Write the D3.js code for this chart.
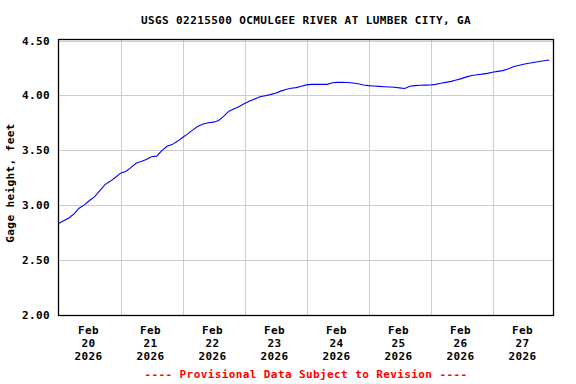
<!DOCTYPE html>
<html>
<head>
<meta charset="utf-8">
<script src="https://cdn.jsdelivr.net/npm/d3@7"></script>
<style>
  html, body { margin: 0; padding: 0; background: #fff; }
  svg { display: block; }
  text { font-family: "DejaVu Sans Mono", "Liberation Mono", monospace; font-weight: bold; }
</style>
</head>
<body>
<svg id="chart" width="576" height="384"></svg>
<script>
// ---- Data ----
const title = "USGS 02215500 OCMULGEE RIVER AT LUMBER CITY, GA";
const yLabel = "Gage height, feet";
const footer = "---- Provisional Data Subject to Revision ----";
const startTime = "2026-02-20T00:00:00";
const stepHours = 2;
const gageHeight = [
  2.830, 2.855, 2.880, 2.918, 2.970, 3.000, 3.040, 3.075, 3.130, 3.185,
  3.215, 3.250, 3.290, 3.305, 3.340, 3.380, 3.395, 3.415, 3.440, 3.445,
  3.495, 3.535, 3.550, 3.580, 3.615, 3.648, 3.685, 3.718, 3.738, 3.750,
  3.755, 3.770, 3.810, 3.855, 3.878, 3.898, 3.925, 3.947, 3.967, 3.986,
  3.996, 4.006, 4.019, 4.038, 4.053, 4.065, 4.070, 4.082, 4.095, 4.100,
  4.100, 4.100, 4.100, 4.115, 4.118, 4.119, 4.117, 4.112, 4.105, 4.094,
  4.088, 4.085, 4.081, 4.078, 4.076, 4.073, 4.068, 4.062, 4.083, 4.088,
  4.092, 4.093, 4.094, 4.100, 4.110, 4.118, 4.127, 4.140, 4.152, 4.168,
  4.181, 4.188, 4.193, 4.200, 4.210, 4.218, 4.225, 4.240, 4.260, 4.272,
  4.284, 4.292, 4.300, 4.308, 4.315, 4.322
];
const yTicks = [2.0, 2.5, 3.0, 3.5, 4.0, 4.5];
const xTickDays = ["2026-02-20", "2026-02-21", "2026-02-22", "2026-02-23",
                   "2026-02-24", "2026-02-25", "2026-02-26", "2026-02-27"];
const xDomain = ["2026-02-20T00:00:00", "2026-02-28T00:00:00"];

// ---- Build ----
const parse = d3.isoParse;
const t0 = parse(startTime);
const series = gageHeight.map((v, i) => ({ t: d3.timeHour.offset(t0, i * stepHours), v }));

const svg = d3.select("#chart");
const plot = { left: 58.5, right: 554.5, top: 40.5, bottom: 314.5 };

const x = d3.scaleTime().domain(xDomain.map(parse)).range([plot.left, plot.right]);
const y = d3.scaleLinear().domain([2.0, 4.5]).range([plot.bottom, plot.top]);

// gridlines
svg.append("g").selectAll("line.h").data(yTicks).join("line")
  .attr("x1", plot.left).attr("x2", plot.right - 1)
  .attr("y1", d => Math.round(y(d)) + 0.5).attr("y2", d => Math.round(y(d)) + 0.5)
  .attr("stroke", "#cccccc").attr("stroke-width", 1);
svg.append("g").selectAll("line.v").data(xTickDays.slice(1)).join("line")
  .attr("x1", d => Math.round(x(parse(d + "T00:00:00"))) + 0.5)
  .attr("x2", d => Math.round(x(parse(d + "T00:00:00"))) + 0.5)
  .attr("y1", plot.top - 1).attr("y2", plot.bottom + 1)
  .attr("stroke", "#cccccc").attr("stroke-width", 1);

// data line
const line = d3.line().x(d => x(d.t)).y(d => y(d.v));
svg.append("path").datum(series)
  .attr("d", line).attr("fill", "none")
  .attr("stroke", "#0000ff").attr("stroke-width", 1.1);

// frame
svg.append("rect")
  .attr("x", 58.5).attr("y", 39.5).attr("width", 495).attr("height", 276)
  .attr("fill", "none").attr("stroke", "#000").attr("stroke-width", 1.3);

// y tick labels
const fs = 11;
svg.append("g").selectAll("text").data(yTicks).join("text")
  .attr("x", 50).attr("y", d => y(d) + 4)
  .attr("text-anchor", "end").attr("font-size", fs).attr("letter-spacing", 0.4)
  .text(d => d3.format(".2f")(d));

// x tick labels
const fmtMon = d3.timeFormat("%b"), fmtDay = d3.timeFormat("%d"), fmtYr = d3.timeFormat("%Y");
const xg = svg.append("g").selectAll("text").data(xTickDays).join("text")
  .attr("text-anchor", "middle").attr("font-size", fs).attr("letter-spacing", 0.4)
  .attr("transform", d => `translate(${x(parse(d + "T12:00:00")) - 1},0)`);
xg.each(function(d) {
  const dt = parse(d + "T00:00:00");
  const sel = d3.select(this);
  sel.append("tspan").attr("x", 0).attr("y", 334).text(fmtMon(dt));
  sel.append("tspan").attr("x", 0).attr("y", 347).text(fmtDay(dt));
  sel.append("tspan").attr("x", 0).attr("y", 360).text(fmtYr(dt));
});

// title
svg.append("text").attr("x", 306).attr("y", 24)
  .attr("text-anchor", "middle").attr("font-size", fs).attr("letter-spacing", 0.4)
  .text(title);

// y axis label
svg.append("text").attr("transform", "translate(14,183) rotate(-90)")
  .attr("text-anchor", "middle").attr("font-size", fs).attr("letter-spacing", 0.4)
  .text(yLabel);

// footer
svg.append("text").attr("x", 306).attr("y", 378)
  .attr("text-anchor", "middle").attr("font-size", fs).attr("letter-spacing", 0.4)
  .attr("fill", "#ff0000")
  .text(footer);
</script>
</body>
</html>
